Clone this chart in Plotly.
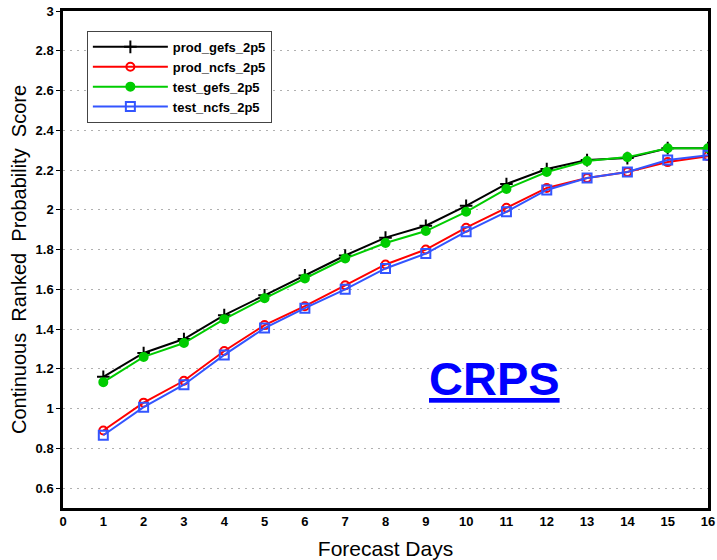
import plotly.graph_objects as go

days = list(range(1, 17))
prod_gefs_2p5 = [1.16, 1.28, 1.35, 1.47, 1.57, 1.67, 1.77, 1.86, 1.92, 2.02, 2.13, 2.205, 2.25, 2.26, 2.31, 2.31]
prod_ncfs_2p5 = [0.89, 1.03, 1.14, 1.29, 1.42, 1.515, 1.62, 1.725, 1.80, 1.91, 2.01, 2.11, 2.16, 2.19, 2.24, 2.27]
test_gefs_2p5 = [1.133, 1.26, 1.33, 1.45, 1.555, 1.655, 1.755, 1.833, 1.893, 1.99, 2.105, 2.19, 2.245, 2.265, 2.31, 2.31]
test_ncfs_2p5 = [0.866, 1.007, 1.12, 1.27, 1.405, 1.505, 1.60, 1.705, 1.78, 1.89, 1.99, 2.10, 2.16, 2.19, 2.25, 2.275]

x_ticks = list(range(0, 17))
y_ticks = [0.6, 0.8, 1, 1.2, 1.4, 1.6, 1.8, 2, 2.2, 2.4, 2.6, 2.8, 3]
y_tick_labels = ["0.6", "0.8", "1", "1.2", "1.4", "1.6", "1.8", "2", "2.2", "2.4", "2.6", "2.8", "3"]

series = [
    ("prod_gefs_2p5", prod_gefs_2p5, "#000000", "cross-thin-open", 9),
    ("prod_ncfs_2p5", prod_ncfs_2p5, "#ff0000", "circle-open", 8),
    ("test_gefs_2p5", test_gefs_2p5, "#00cc00", "circle", 8),
    ("test_ncfs_2p5", test_ncfs_2p5, "#3355ff", "square-open", 9),
]

fig = go.Figure()
for name, vals, color, sym, size in series:
    fig.add_trace(go.Scatter(
        x=days, y=vals, name=name, mode="lines+markers",
        line=dict(color=color, width=2),
        marker=dict(symbol=sym, size=size, color=color,
                    line=dict(color=color, width=2)),
    ))

fig.add_annotation(
    x=10.7, y=1.15, xref="x", yref="y",
    text="<b><u>CRPS</u></b>", showarrow=False,
    font=dict(family="Liberation Sans, Arial", size=47, color="#0000ff"),
)

tickfont = dict(family="Liberation Sans Narrow, Liberation Sans, Arial", size=13, color="black", weight="bold")

fig.update_layout(
    width=717, height=560,
    margin=dict(l=63, r=2, t=11, b=50),
    plot_bgcolor="white", paper_bgcolor="white",
    showlegend=True,
    legend=dict(
        x=0.037, y=0.96, xanchor="left", yanchor="top",
        bgcolor="white", bordercolor="#444444", borderwidth=1,
        font=dict(family="Liberation Sans Narrow, Liberation Sans, Arial", size=13, color="black", weight="bold"),
        itemwidth=75, tracegroupgap=0, entrywidth=200, entrywidthmode="pixels",
    ),
    xaxis=dict(
        range=[0, 16], tickvals=x_ticks, ticktext=[str(t) for t in x_ticks],
        showgrid=False, zeroline=False,
        showline=True, linecolor="black", linewidth=2.5, mirror=True,
        ticks="", ticklen=0, ticklabeloverflow="allow",
        tickfont=tickfont,
        title=dict(text="Forecast Days", standoff=14,
                   font=dict(family="Liberation Sans, Arial", size=21, color="black")),
    ),
    yaxis=dict(
        range=[0.5, 3], tickvals=y_ticks, ticktext=y_tick_labels,
        showgrid=True, gridcolor="#b0b0b0", griddash="2px,5px", gridwidth=1,
        zeroline=False,
        showline=True, linecolor="black", linewidth=2.5, mirror=True,
        ticks="outside", ticklen=4, tickcolor="black",
        tickfont=tickfont,
        title=dict(text="Continuous  Ranked  Probability  Score", standoff=4,
                   font=dict(family="Liberation Sans, Arial", size=20, color="black")),
    ),
)

fig.write_html("out.html")
